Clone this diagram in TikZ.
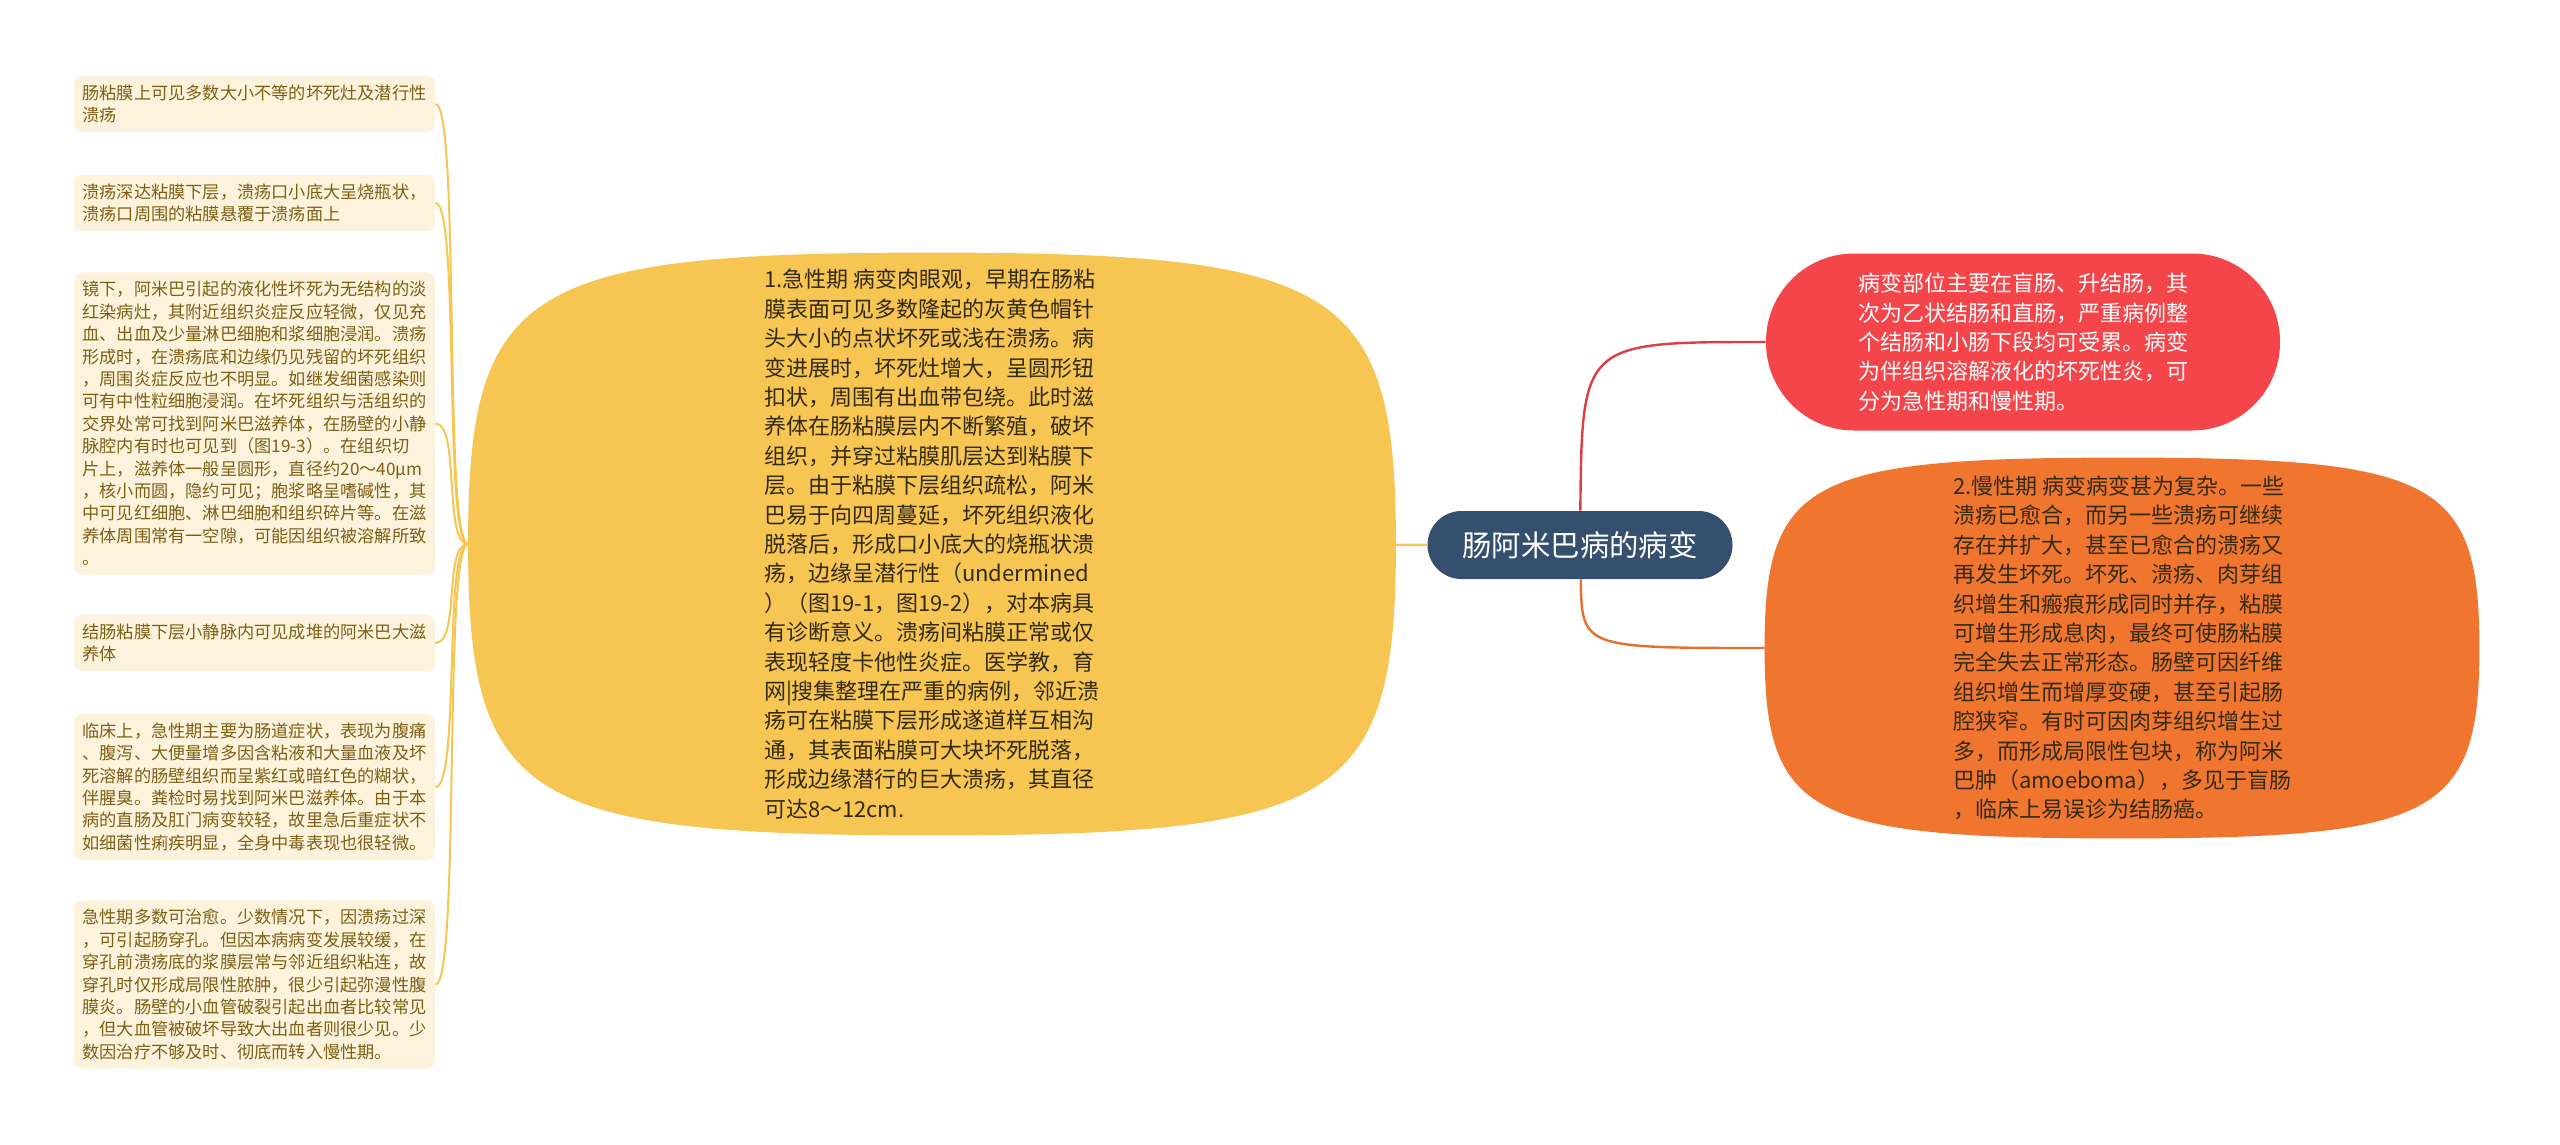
\documentclass[tikz,border=0pt]{standalone}
\usepackage{fontspec}
\setmainfont{Noto Sans CJK SC}
\usetikzlibrary{calc,backgrounds}
\definecolor{rootblue}{RGB}{52,80,110}
\definecolor{acuteyellow}{RGB}{246,197,82}
\definecolor{sitered}{RGB}{244,70,74}
\definecolor{chronicorange}{RGB}{240,118,48}
\definecolor{leafcream}{RGB}{253,243,220}
\definecolor{leaftext}{RGB}{125,96,22}
\definecolor{darktext}{RGB}{51,42,20}
\tikzset{
	rootnode/.style={
			fill=rootblue, text=white, rounded corners=17pt,
			minimum width=152.5pt, minimum height=34pt, inner sep=0pt,
			font={\fontsize{14.7pt}{18pt}\selectfont}
		},
	bignode/.style={
			align=left, inner sep=0pt,
			font={\fontsize{11pt}{14.7pt}\selectfont}
		},
	leafnode/.style={
			fill=leafcream, text=leaftext, rounded corners=4pt,
			text width=172pt, align=left, inner xsep=4.25pt, inner ysep=4.5pt,
			font={\fontsize{8.6pt}{11.2pt}\selectfont}
		},
	leafline/.style={draw=acuteyellow, line width=1pt},
	branchline/.style={line width=1.2pt}
}

\begin{document}
\begin{tikzpicture}[x=0.5pt,y=-0.5pt]
	\useasboundingbox (0,0) rectangle (2560,1145);

	\node[rootnode] (root) at (1580,545) {肠阿米巴病的病变};

	\node[bignode, text=darktext, minimum width=463.5pt, minimum height=291pt] (acute) at (932,544) {1.急性期 病变肉眼观，早期在肠粘\\
		膜表面可见多数隆起的灰黄色帽针\\
		头大小的点状坏死或浅在溃疡。病\\
		变进展时，坏死灶增大，呈圆形钮\\
		扣状，周围有出血带包绕。此时滋\\
		养体在肠粘膜层内不断繁殖，破坏\\
		组织，并穿过粘膜肌层达到粘膜下\\
		层。由于粘膜下层组织疏松，阿米\\
		巴易于向四周蔓延，坏死组织液化\\
		脱落后，形成口小底大的烧瓶状溃\\
		疡，边缘呈潜行性（undermined\\
		）（图19-1，图19-2），对本病具\\
		有诊断意义。溃疡间粘膜正常或仅\\
		表现轻度卡他性炎症。医学教，育\\
		网|搜集整理在严重的病例，邻近溃\\
		疡可在粘膜下层形成遂道样互相沟\\
		通，其表面粘膜可大块坏死脱落，\\
		形成边缘潜行的巨大溃疡，其直径\\
		可达8～12cm.};

	\node[bignode, fill=sitered, text=white, rounded corners=44pt,
		minimum width=257pt, minimum height=88.5pt] (site) at (2023,342) {病变部位主要在盲肠、升结肠，其\\
		次为乙状结肠和直肠，严重病例整\\
		个结肠和小肠下段均可受累。病变\\
		为伴组织溶解液化的坏死性炎，可\\
		分为急性期和慢性期。};

	\node[bignode, text=darktext, minimum width=357pt, minimum height=190pt] (chronic) at (2122,648) {2.慢性期 病变病变甚为复杂。一些\\
		溃疡已愈合，而另一些溃疡可继续\\
		存在并扩大，甚至已愈合的溃疡又\\
		再发生坏死。坏死、溃疡、肉芽组\\
		织增生和瘢痕形成同时并存，粘膜\\
		可增生形成息肉，最终可使肠粘膜\\
		完全失去正常形态。肠壁可因纤维\\
		组织增生而增厚变硬，甚至引起肠\\
		腔狭窄。有时可因肉芽组织增生过\\
		多，而形成局限性包块，称为阿米\\
		巴肿（amoeboma），多见于盲肠\\
		，临床上易误诊为结肠癌。};

	% squircle blobs behind the two big topics
	\begin{scope}[on background layer]
		\foreach \blob/\col in {acute/acuteyellow,chronic/chronicorange}
			\fill[\col] (\blob.east)
				.. controls ($(\blob.east)!0.88!(\blob.north east)$) and ($(\blob.north)!0.88!(\blob.north east)$) .. (\blob.north)
				.. controls ($(\blob.north)!0.88!(\blob.north west)$) and ($(\blob.west)!0.88!(\blob.north west)$) .. (\blob.west)
				.. controls ($(\blob.west)!0.88!(\blob.south west)$) and ($(\blob.south)!0.88!(\blob.south west)$) .. (\blob.south)
				.. controls ($(\blob.south)!0.88!(\blob.south east)$) and ($(\blob.east)!0.88!(\blob.south east)$) .. (\blob.east) -- cycle;
	\end{scope}

	% left leaves
	\node[leafnode] (gross) at (254.5,104) {肠粘膜上可见多数大小不等的坏死灶及潜行性\\
		溃疡};
	\node[leafnode] (ulcer) at (254.5,203) {溃疡深达粘膜下层，溃疡口小底大呈烧瓶状，\\
		溃疡口周围的粘膜悬覆于溃疡面上};
	\node[leafnode] (micro) at (254.5,423.5) {镜下，阿米巴引起的液化性坏死为无结构的淡\\
		红染病灶，其附近组织炎症反应轻微，仅见充\\
		血、出血及少量淋巴细胞和浆细胞浸润。溃疡\\
		形成时，在溃疡底和边缘仍见残留的坏死组织\\
		，周围炎症反应也不明显。如继发细菌感染则\\
		可有中性粒细胞浸润。在坏死组织与活组织的\\
		交界处常可找到阿米巴滋养体，在肠壁的小静\\
		脉腔内有时也可见到（图19-3）。在组织切\\
		片上，滋养体一般呈圆形，直径约20～40μm\\
		，核小而圆，隐约可见；胞浆略呈嗜碱性，其\\
		中可见红细胞、淋巴细胞和组织碎片等。在滋\\
		养体周围常有一空隙，可能因组织被溶解所致\\
		。};
	\node[leafnode] (vein) at (254.5,643) {结肠粘膜下层小静脉内可见成堆的阿米巴大滋\\
		养体};
	\node[leafnode] (clinic) at (254.5,787) {临床上，急性期主要为肠道症状，表现为腹痛\\
		、腹泻、大便量增多因含粘液和大量血液及坏\\
		死溶解的肠壁组织而呈紫红或暗红色的糊状，\\
		伴腥臭。粪检时易找到阿米巴滋养体。由于本\\
		病的直肠及肛门病变较轻，故里急后重症状不\\
		如细菌性痢疾明显，全身中毒表现也很轻微。};
	\node[leafnode] (outcome) at (254.5,984.5) {急性期多数可治愈。少数情况下，因溃疡过深\\
		，可引起肠穿孔。但因本病病变发展较缓，在\\
		穿孔前溃疡底的浆膜层常与邻近组织粘连，故\\
		穿孔时仅形成局限性脓肿，很少引起弥漫性腹\\
		膜炎。肠壁的小血管破裂引起出血者比较常见\\
		，但大血管被破坏导致大出血者则很少见。少\\
		数因治疗不够及时、彻底而转入慢性期。};

	% connectors
	\draw[branchline, acuteyellow] (root) -- (acute);
	\draw[branchline, sitered!90!black] (root) .. controls (1582,342) .. (site.west);
	\draw[branchline, chronicorange!95!black] (root) .. controls (1582,648) .. (chronic.west);
	\foreach \leaf in {gross,ulcer,micro,vein,clinic,outcome}
		\draw[leafline] (acute.west) .. controls +(-25,0) and +(25,0) .. (\leaf.east);

\end{tikzpicture}
\end{document}
